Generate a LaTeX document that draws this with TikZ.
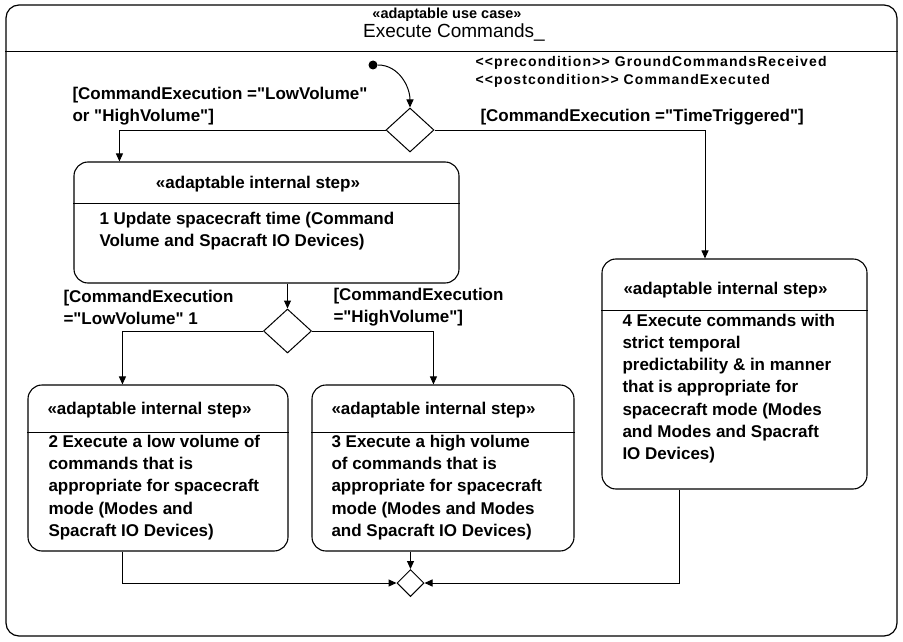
\documentclass[tikz,border=0pt]{standalone}
\usepackage{fontspec}
\setmainfont{Liberation Sans}[Ligatures=TeXOff]
\usetikzlibrary{arrows.meta,shapes.geometric}

\begin{document}
\begin{tikzpicture}[x=1pt, y=-1pt, line width=1pt,
  every node/.style={inner sep=0pt},
  stepbox/.style={draw, line width=1.1pt, rounded corners=14pt},
  stereo/.style={font=\fontsize{17}{22}\selectfont\bfseries},
  steptext/.style={font=\fontsize{17}{22.2}\selectfont\bfseries, align=left, anchor=west},
  guard/.style={font=\fontsize{17}{22}\selectfont\bfseries, align=left, anchor=west},
  choice/.style={diamond, draw, fill=white, minimum width=48pt, minimum height=44pt},
  merge/.style={diamond, draw, fill=white, minimum width=27pt, minimum height=27pt},
  flow/.style={-{Triangle[length=8pt,width=7pt]}}]
  \useasboundingbox (0,0) rectangle (903,642);

  % frame of the use case
  \node[draw, line width=1.2pt, rounded corners=13pt, minimum width=891pt, minimum height=631pt] (frame) at (451.5,320.5) {};
  \draw ([yshift=-47pt]frame.north west) -- ([yshift=-47pt]frame.north east);
  \node[font=\fontsize{14.5}{16}\selectfont\bfseries] (kind) at (447,15) {«adaptable use case»};
  \node[font=\fontsize{19}{22}\selectfont] (title) at (454,33) {Execute Commands\_};
  \node[font=\fontsize{14}{18}\selectfont\bfseries\addfontfeatures{LetterSpace=8}, align=left, anchor=west] (cond) at (475,72)
    {<<precondition>> GroundCommandsReceived\\<<postcondition>> CommandExecuted};

  % start and decisions
  \node[circle, fill, minimum size=9pt] (init) at (373,65) {};
  \node[choice] (d1) at (410,130) {};
  \node[choice] (d2) at (287.5,331) {};
  \node[merge] (d3) at (410.5,583) {};

  % steps
  \node[stepbox, minimum width=385pt, minimum height=121pt] (s1) at (266.5,222.5) {};
  \node[stepbox, minimum width=260pt, minimum height=166pt] (s2) at (158,468) {};
  \node[stepbox, minimum width=262pt, minimum height=166pt] (s3) at (443,468) {};
  \node[stepbox, minimum width=265pt, minimum height=230pt] (s4) at (734.5,374) {};

  \draw ([yshift=-42pt]s1.north west) -- ([yshift=-42pt]s1.north east);
  \draw ([yshift=-48pt]s2.north west) -- ([yshift=-48pt]s2.north east);
  \draw ([yshift=-48pt]s3.north west) -- ([yshift=-48pt]s3.north east);
  \draw ([yshift=-52pt]s4.north west) -- ([yshift=-52pt]s4.north east);

  \node[stereo] (h1) at (258,184) {«adaptable internal step»};
  \node[stereo, anchor=west] (h2) at (47,410) {«adaptable internal step»};
  \node[stereo, anchor=west] (h3) at (331,410) {«adaptable internal step»};
  \node[stereo, anchor=west] (h4) at (623,290) {«adaptable internal step»};

  \node[steptext] (t1) at (99,231) {1 Update spacecraft time (Command\\Volume and Spacraft IO Devices)};
  \node[steptext] (t2) at (48,487.5) {2 Execute a low volume of\\commands that is\\appropriate for spacecraft\\mode (Modes and\\Spacraft IO Devices)};
  \node[steptext] (t3) at (331,487.5) {3 Execute a high volume\\of commands that is\\appropriate for spacecraft\\mode (Modes and Modes\\and Spacraft IO Devices)};
  \node[steptext] (t4) at (622,388.5) {4 Execute commands with\\strict temporal\\predictability \& in manner\\that is appropriate for\\spacecraft mode (Modes\\and Modes and Spacraft\\IO Devices)};

  % guards
  \node[guard] (g1) at (72,106) {[CommandExecution ="LowVolume"\\or "HighVolume"]};
  \node[guard] (g2) at (480,117) {[CommandExecution ="TimeTriggered"]};
  \node[guard] (g3) at (63,307) {[CommandExecution\\="LowVolume" 1};
  \node[guard] (g4) at (333,307) {[CommandExecution\\="HighVolume"]};

  % flows
  \draw[flow] (init.east) to[out=0, in=90] (d1.north);
  \draw[flow] (d1.west) -| ([xshift=46pt]s1.north west);
  \draw[flow] (d1.east) -| ([xshift=-29.5pt]s4.north);
  \draw[flow] (s1.south -| d2) -- (d2.north);
  \draw[flow] (d2.west) -| ([xshift=95pt]s2.north west);
  \draw[flow] (d2.east) -| ([xshift=122pt]s3.north west);
  \draw[flow] (s3.south -| d3) -- (d3.north);
  \draw[flow] ([xshift=95pt]s2.south west) |- (d3.west);
  \draw[flow] ([xshift=78pt]s4.south west) |- (d3.east);
\end{tikzpicture}
\end{document}
